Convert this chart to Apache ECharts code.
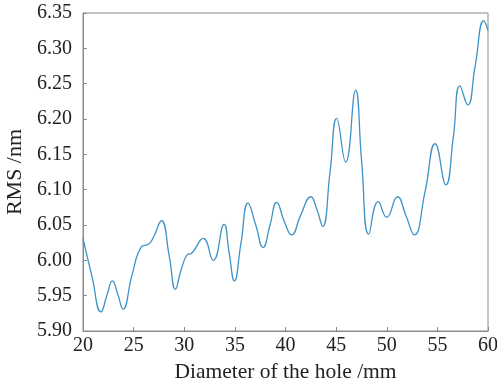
<!DOCTYPE html>
<html>
<head>
<meta charset="utf-8">
<script src="https://cdn.jsdelivr.net/npm/echarts@6/dist/echarts.min.js"></script>
<style>
  html, body { margin: 0; padding: 0; background: #fff; }
  #chart { width: 497px; height: 381px; }
</style>
</head>
<body>
<div id="chart"></div>
<script>
// hole diameter (mm) and RMS (nm)
const diameter = [
  20, 20.89, 21.78, 22.37, 22.9, 23.46, 23.95, 24.84, 25.76, 26.5,
  27.0, 27.74, 28.53, 29.12, 29.68, 30.3, 30.73, 31.88, 32.87, 33.93,
  34.42, 34.95, 35.6, 36.3, 37.06, 37.78, 38.47, 39.13, 39.88, 40.6,
  41.5, 42.5, 43.1, 43.67, 44.4, 45.05, 45.94, 46.92, 47.52, 48.22,
  49.15, 50.0, 51.06, 51.9, 52.72, 53.78, 54.78, 55.84, 56.58, 57.22,
  58.0, 58.72, 59.58, 60
];
const rms = [
  6.031, 5.977, 5.927, 5.951, 5.971, 5.951, 5.931, 5.979, 6.019, 6.023,
  6.034, 6.056, 6.005, 5.959, 5.986, 6.008, 6.010, 6.031, 6.000, 6.051,
  6.012, 5.971, 6.024, 6.081, 6.050, 6.018, 6.050, 6.082, 6.055, 6.036,
  6.064, 6.090, 6.072, 6.048, 6.125, 6.201, 6.139, 6.241, 6.140, 6.037,
  6.083, 6.061, 6.090, 6.063, 6.036, 6.097, 6.165, 6.107, 6.175, 6.247,
  6.220, 6.274, 6.339, 6.325
];

const chart = echarts.init(document.getElementById('chart'));
const font = 'Liberation Serif';
const axisGray = '#8a8a8a';

chart.setOption({
  animation: false,
  grid: {
    left: 83,
    right: 9,
    top: 13,
    bottom: 50,
    outerBoundsMode: 'none',
    containLabel: false,
    show: true,
    borderColor: axisGray,
    borderWidth: 1
  },
  xAxis: {
    type: 'value',
    min: 20,
    max: 60,
    interval: 5,
    name: 'Diameter of the hole /mm',
    nameLocation: 'middle',
    nameGap: 27,
    nameTextStyle: { fontFamily: font, fontSize: 21.5, color: '#222' },
    axisLine: { lineStyle: { color: axisGray } },
    axisTick: { inside: true, length: 4, lineStyle: { color: axisGray } },
    axisLabel: { fontFamily: font, fontSize: 20, color: '#222', margin: 5 },
    splitLine: { show: false }
  },
  yAxis: {
    type: 'value',
    min: 5.9,
    max: 6.35,
    interval: 0.05,
    name: 'RMS /nm',
    nameLocation: 'middle',
    nameGap: 55,
    nameTextStyle: { fontFamily: font, fontSize: 22, color: '#222' },
    axisLine: { show: true, lineStyle: { color: axisGray } },
    axisTick: { show: true, inside: true, length: 4, lineStyle: { color: axisGray } },
    axisLabel: {
      fontFamily: font, fontSize: 20, color: '#222', margin: 11,
      formatter: (v) => v.toFixed(2)
    },
    splitLine: { show: false }
  },
  series: [{
    type: 'line',
    data: diameter.map((d, i) => [d, rms[i]]),
    smooth: 0.5,
    showSymbol: false,
    lineStyle: { color: '#3f93c6', width: 1.3 }
  }]
});
</script>
</body>
</html>
